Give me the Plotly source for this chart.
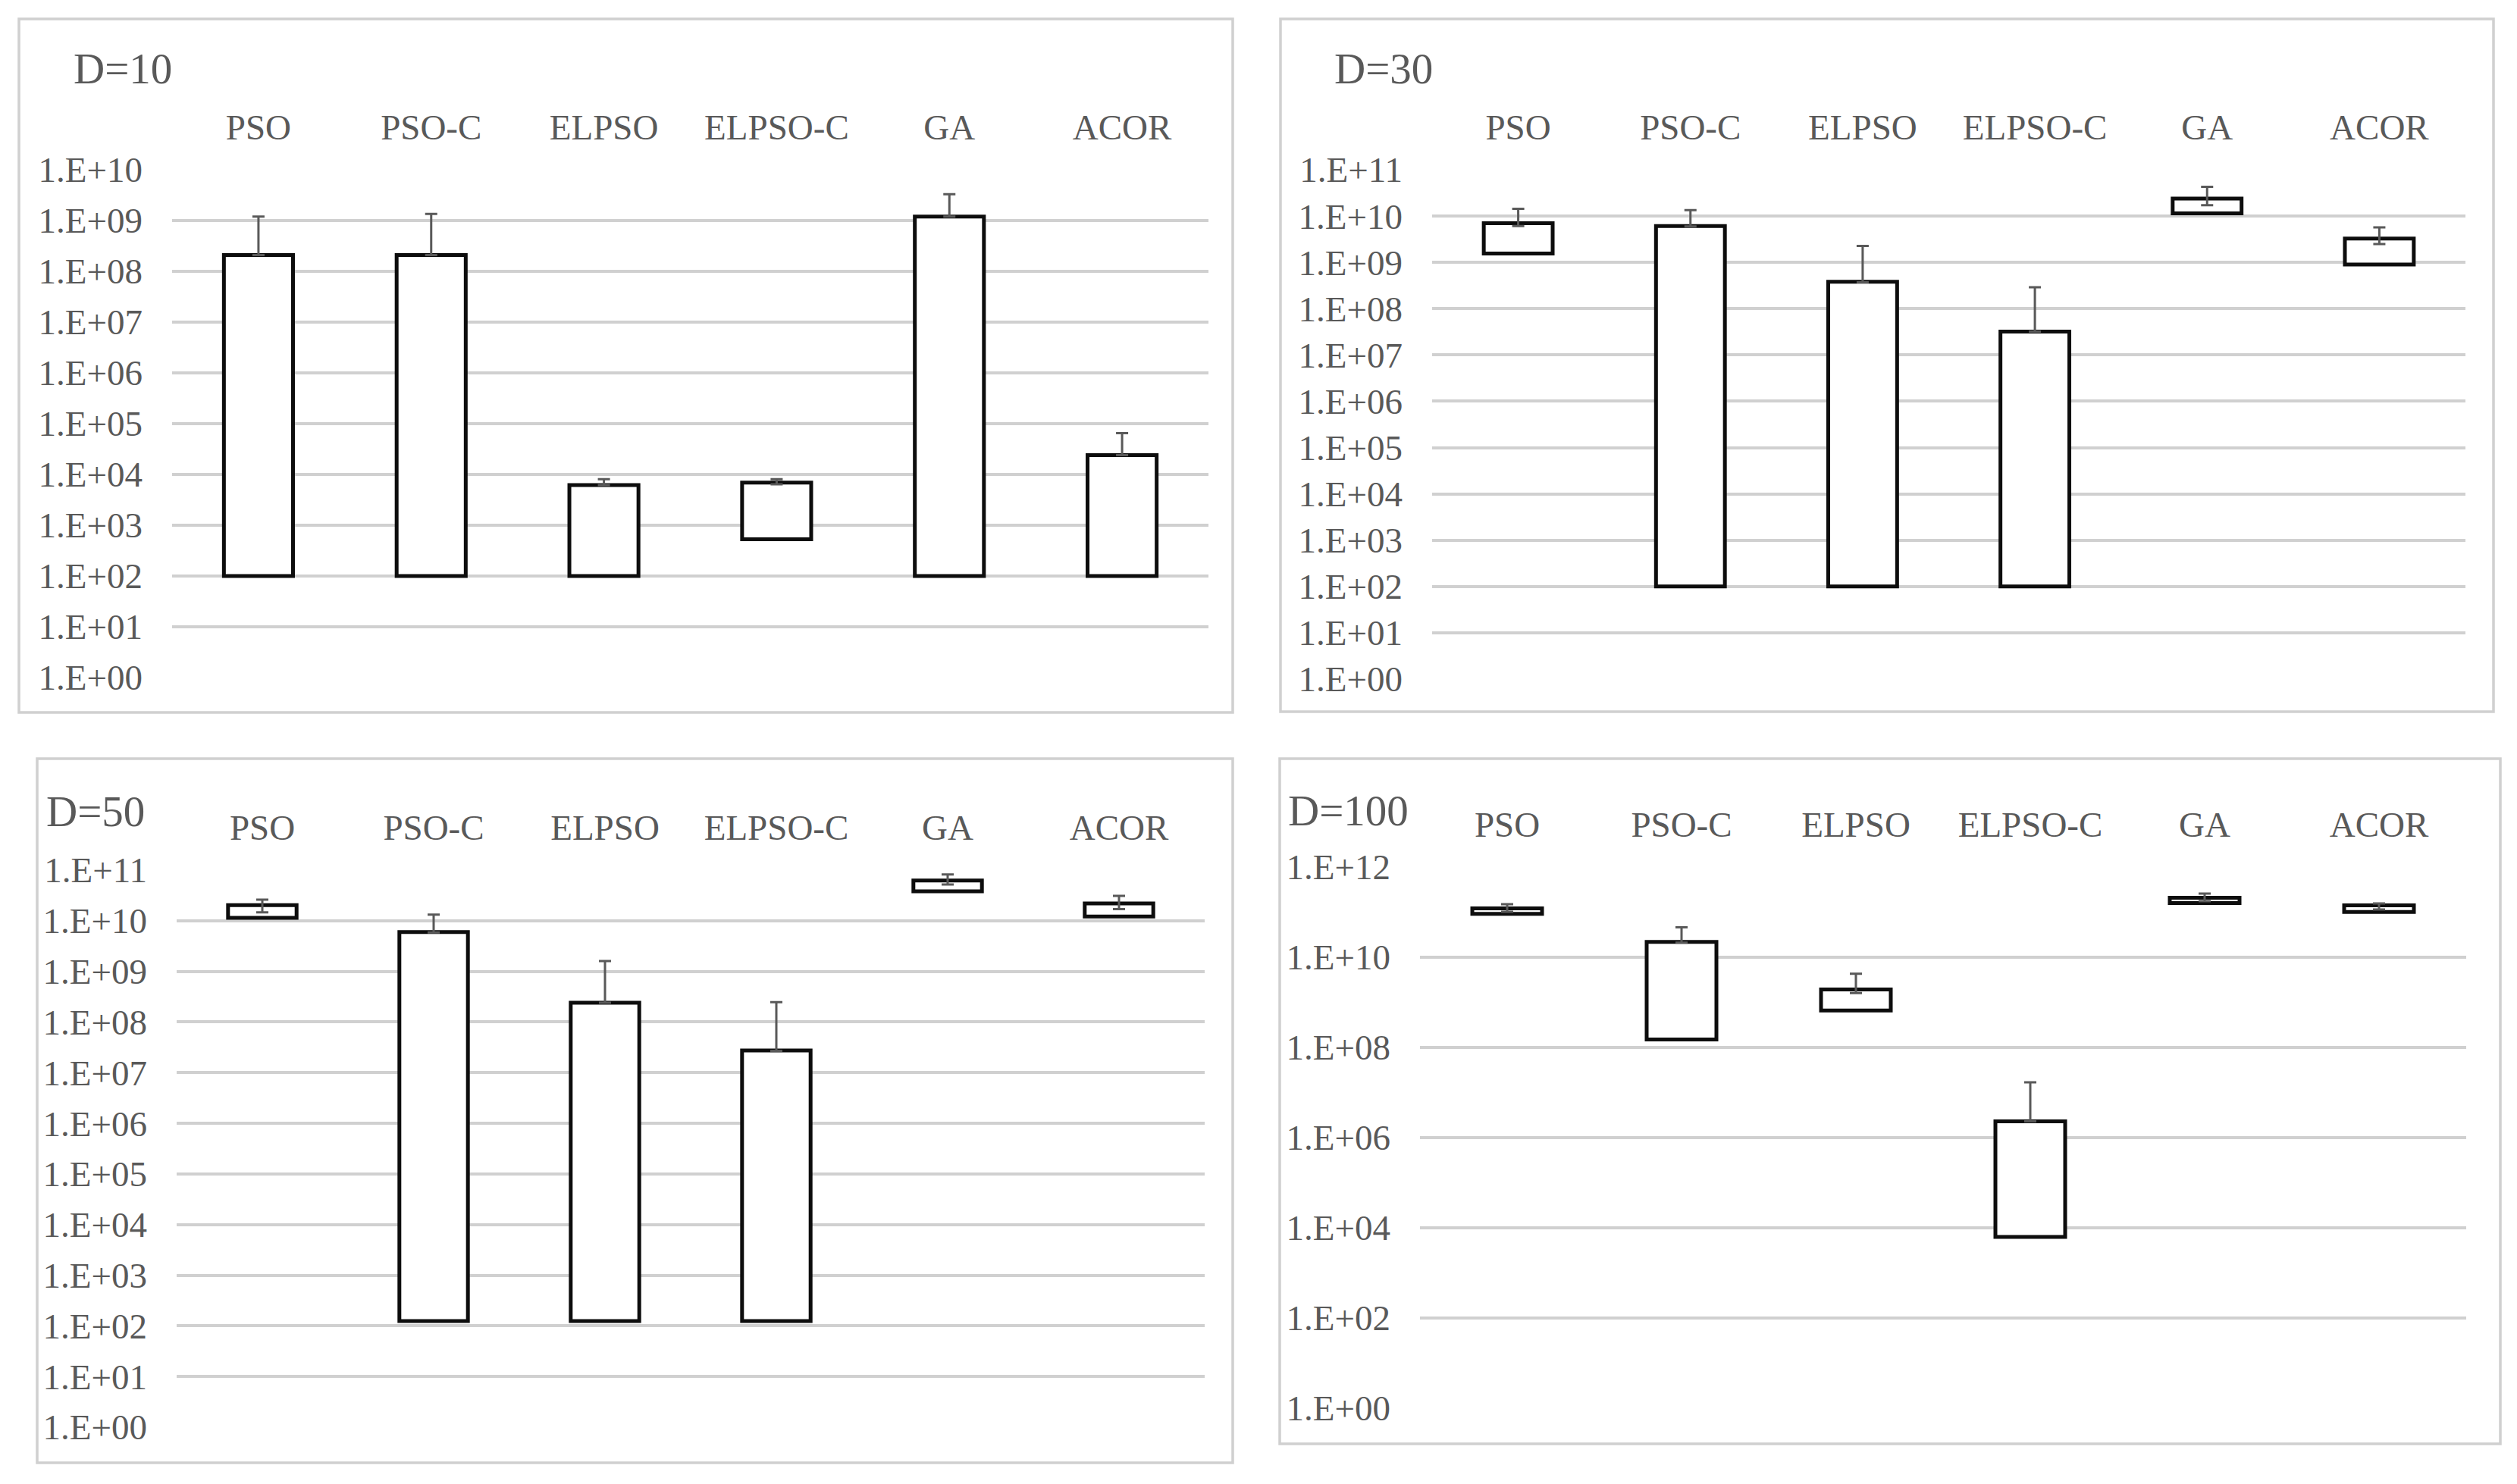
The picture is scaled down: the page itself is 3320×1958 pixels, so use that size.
import plotly.graph_objects as go

W, H = 3320, 1958
PAD = 8  # default body margin of the html page

algorithms = ["PSO", "PSO-C", "ELPSO", "ELPSO-C", "GA", "ACOR"]

# per panel: bar bottom, bar top, error bar upper end, error bar lower end
d10_low = [1e2, 1e2, 1e2, 5.3e2, 1e2, 1e2]
d10_top = [2.1e8, 2.1e8, 6.2e3, 6.9e3, 1.2e9, 2.4e4]
d10_hi = [1.2e9, 1.35e9, 8.1e3, 8.1e3, 3.3e9, 6.5e4]
d10_lo = [2.1e8, 2.1e8, 6.2e3, 6.4e3, 1.2e9, 2.4e4]

d30_low = [1.56e9, 1e2, 1e2, 1e2, 1.14e10, 9.0e8]
d30_top = [7.0e9, 6.1e9, 3.8e8, 3.2e7, 2.38e10, 3.27e9]
d30_hi = [1.43e10, 1.34e10, 2.26e9, 2.9e8, 4.3e10, 5.7e9]
d30_lo = [6.1e9, 6.0e9, 3.7e8, 3.2e7, 1.72e10, 2.48e9]

d50_low = [1.14e10, 1.24e2, 1.24e2, 1.24e2, 3.8e10, 1.21e10]
d50_top = [2.03e10, 5.97e9, 2.4e8, 2.75e7, 6.2e10, 2.2e10]
d50_hi = [2.6e10, 1.32e10, 1.6e9, 2.47e8, 8.2e10, 3.1e10]
d50_lo = [1.47e10, 5.9e9, 2.4e8, 2.7e7, 5.2e10, 1.7e10]

d100_low = [9.2e10, 1.5e8, 6.6e8, 6.3e3, 1.59e11, 1.01e11]
d100_top = [1.21e11, 2.2e10, 1.94e9, 2.3e6, 2.08e11, 1.42e11]
d100_hi = [1.5e11, 4.6e10, 4.3e9, 1.68e7, 2.58e11, 1.56e11]
d100_lo = [1.02e11, 2.1e10, 1.6e9, 2.3e6, 1.75e11, 1.14e11]

panels = [
    # title, data, box px, plot px, title px, top decade, tick step
    ("D=10", (d10_low, d10_top, d10_hi, d10_lo), (25, 25, 1626, 940), (227, 224, 1594, 894), (95, 90), 10, 1),
    ("D=30", (d30_low, d30_top, d30_hi, d30_lo), (1689, 25, 3289, 939), (1889, 224, 3252, 896), (1758, 90), 11, 1),
    ("D=50", (d50_low, d50_top, d50_hi, d50_lo), (49, 1001, 1626, 1930), (233, 1148, 1589, 1883), (59, 1070), 11, 1),
    ("D=100", (d100_low, d100_top, d100_hi, d100_lo), (1688, 1001, 3298, 1905), (1873, 1144, 3253, 1858), (1697, 1069), 12, 2),
]

GRID = "#d0d0d0"
TEXT = "#595959"
FONT = "Liberation Serif, Times New Roman, serif"

FW, FH = W - 2 * PAD, H - 2 * PAD


def px(x):
    return (x - PAD) / FW


def py(y):
    return 1 - (y - PAD) / FH


fig = go.Figure()
shapes = []
annotations = []
layout = {}

for i, (title, (low, top, hi, lo), box, area, tpos, top_dec, step) in enumerate(panels):
    n = "" if i == 0 else str(i + 1)
    fig.add_trace(go.Bar(
        x=algorithms,
        y=[t - b for t, b in zip(top, low)],
        base=low,
        width=0.4,
        marker=dict(color="white", line=dict(color="#0d0d0d", width=5)),
        error_y=dict(
            type="data",
            array=[h - t for h, t in zip(hi, top)],
            arrayminus=[t - l for t, l in zip(top, lo)],
            color=TEXT, thickness=3, width=8,
        ),
        xaxis="x" + n, yaxis="y" + n,
        showlegend=False,
    ))
    decades = list(range(0, top_dec + 1, step))
    layout["xaxis" + n] = dict(
        domain=[px(area[0]), px(area[2])],
        anchor="y" + n,
        type="category",
        side="top",
        automargin=False,
        showgrid=False, showline=False, zeroline=False,
        ticks="", ticklabelstandoff=30,
        tickfont=dict(family=FONT, size=47, color=TEXT),
    )
    layout["yaxis" + n] = dict(
        domain=[py(area[3]), py(area[1])],
        anchor="x" + n,
        type="log",
        range=[0, top_dec],
        automargin=False,
        tickvals=[10 ** d for d in decades],
        ticktext=["1.E+%02d" % d for d in decades],
        showgrid=True, gridcolor=GRID, gridwidth=3.5,
        showline=False, zeroline=False,
        ticks="", ticklabelstandoff=38,
        tickfont=dict(family=FONT, size=47, color=TEXT),
    )
    shapes.append(dict(
        type="rect", xref="paper", yref="paper", layer="below",
        x0=px(box[0]), x1=px(box[2]), y0=py(box[3]), y1=py(box[1]),
        line=dict(color=GRID, width=3.5), fillcolor="white",
    ))
    annotations.append(dict(
        text=title, xref="paper", yref="paper",
        x=px(tpos[0]), y=py(tpos[1]), xanchor="left", yanchor="middle",
        showarrow=False, font=dict(family=FONT, size=57, color=TEXT),
    ))

fig.update_layout(
    width=FW, height=FH, autosize=False,
    margin=dict(l=0, r=0, t=0, b=0),
    paper_bgcolor="white", plot_bgcolor="rgba(0,0,0,0)",
    shapes=shapes, annotations=annotations,
    **layout,
)

fig.write_html("out.html")
